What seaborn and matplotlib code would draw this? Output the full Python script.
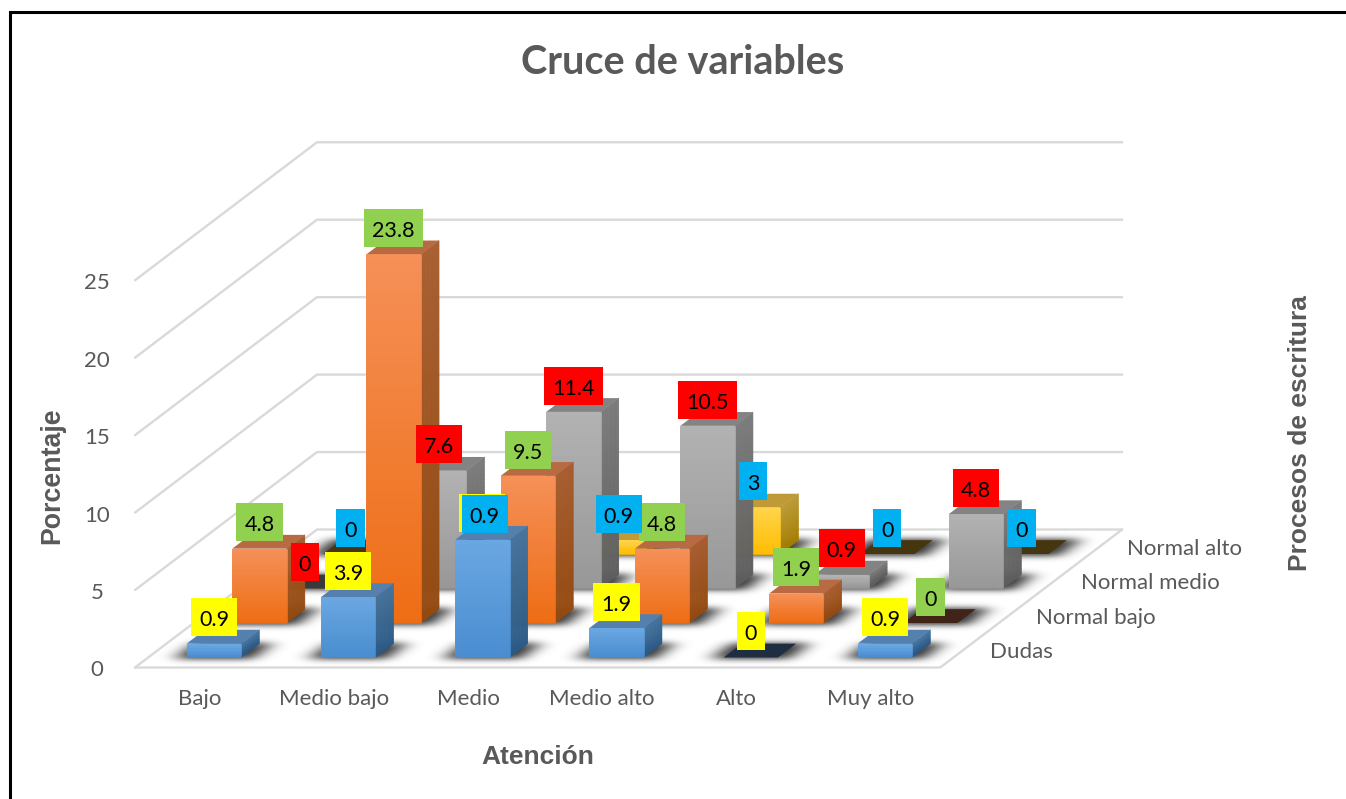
import numpy as np
import seaborn as sns
import matplotlib
matplotlib.use("Agg")
import matplotlib.pyplot as plt
from matplotlib.collections import PolyCollection
from matplotlib.colors import to_rgb
from matplotlib.patches import Polygon, Rectangle
from matplotlib.transforms import Affine2D

atencion = ["Bajo", "Medio bajo", "Medio", "Medio alto", "Alto", "Muy alto"]
escritura = ["Dudas", "Normal bajo", "Normal medio", "Normal alto"]
dudas = [0.9, 3.9, 7.6, 1.9, 0, 0.9]
normal_bajo = [4.8, 23.8, 9.5, 4.8, 1.9, 0]
normal_medio = [0, 7.6, 11.4, 10.5, 0.9, 4.8]
normal_alto = [0, 0.9, 0.9, 3, 0, 0]
series = [dudas, normal_bajo, normal_medio, normal_alto]
y_ticks = [0, 5, 10, 15, 20, 25]

# front top, front bottom, side top, side bottom, top face, flat (zero) face
bar_colors = [
    ("#6AA7E2", "#4A8DD0", "#44749F", "#2C5A86", "#557FAC", "#1F2D40"),
    ("#F59058", "#EE6D14", "#A85D2F", "#944A10", "#B86A42", "#3F2417"),
    ("#B2B2B2", "#989898", "#7A7A7A", "#5E5E5E", "#838383", "#393939"),
    ("#FFD34A", "#FFBE00", "#BB9A35", "#A57E00", "#BF9A36", "#46360F"),
]
label_colors = ["#FFFF00", "#92D050", "#FF0000", "#00B0F0"]

sns.set_theme(style="white")
plt.rcParams["font.family"] = ["Lato", "DejaVu Sans"]

W, H = 1346, 799
ORIGIN_X, ORIGIN_Y = 135, 667.5
CAT_W, VAL_H = 134.2, 15.49
DEPTH_X, DEPTH_Y = 45.5, -34.5
BAR_W, BAR_D, FRONT_GAP = 0.405, 0.4, 0.29
CAT_MID = 0.49
GRAY = "#595959"


def proj(cat, depth, val):
    return (ORIGIN_X + cat * CAT_W + depth * DEPTH_X,
            ORIGIN_Y - val * VAL_H + depth * DEPTH_Y)


def shade(quad, top, bottom, z):
    # vertical gradient as thin strips, quad is tl, tr, br, bl
    tl, tr, br, bl = [np.array(q) for q in quad]
    n = max(3, int(abs(bl[1] - tl[1]) / 2))
    steps = np.linspace(0, 1, n + 1)
    strips = []
    for s0, s1 in zip(steps[:-1], steps[1:]):
        strips.append([tl + (bl - tl) * s0, tr + (br - tr) * s0, tr + (br - tr) * s1, tl + (bl - tl) * s1])
    cols = np.linspace(to_rgb(top), to_rgb(bottom), n)
    ax.add_collection(PolyCollection(strips, facecolors=cols, edgecolors=cols, linewidths=0.4, zorder=z),
                      autolim=False)


fig = plt.figure(figsize=(W / 100, H / 100), dpi=100, facecolor="white")
ax = fig.add_axes([0, 0, 1, 1])
ax.set_xlim(0, W)
ax.set_ylim(H, 0)
ax.set_autoscale_on(False)

# walls and floor
n_cats, n_rows = len(atencion), len(series)
for v in y_ticks:
    xs, ys = zip(proj(0, 0, v), proj(0, n_rows, v), proj(n_cats, n_rows, v))
    ax.plot(xs, ys, color="#D9D9D9", lw=1.7, zorder=1)
    ax.text(97, proj(0, 0, v)[1] + 3, str(v), color=GRAY, fontsize=16, ha="center", va="center")
xs, ys = zip(proj(0, 0, 0), proj(n_cats, 0, 0), proj(n_cats, n_rows, 0))
ax.plot(xs, ys, color="#D9D9D9", lw=1.7, zorder=1)

# bars, back row first
footprints = []
z = 10
label_items = []
for row in range(n_rows - 1, -1, -1):
    vals = series[row]
    front = row + FRONT_GAP
    x0, y0 = proj(CAT_MID, front, 0)
    to_screen = Affine2D().scale(CAT_W, -VAL_H).translate(x0, y0) + ax.transData
    colors = bar_colors[row]
    sns.barplot(x=atencion, y=vals, order=atencion, color=colors[0], saturation=1, width=BAR_W,
                errorbar=None, ax=ax, transform=to_screen, zorder=z, linewidth=0)
    bars = ax.patches[-n_cats:]
    for i, p in enumerate(bars):
        cat0 = p.get_x() + CAT_MID
        cat1 = cat0 + p.get_width()
        v = p.get_height()
        back = front + BAR_D
        footprints.append((proj(cat0, front, 0), proj(cat1, front, 0),
                           proj(cat1, back, 0), proj(cat0, back, 0)))
        z += 1
        top = [proj(cat0, front, v), proj(cat1, front, v), proj(cat1, back, v), proj(cat0, back, v)]
        if v == 0:
            ax.add_patch(Polygon(top, closed=True, facecolor=colors[5], edgecolor="none", zorder=z))
        else:
            shade([proj(cat1, front, v), proj(cat1, back, v), proj(cat1, back, 0), proj(cat1, front, 0)],
                  colors[2], colors[3], z)
            ax.add_patch(Polygon(top, closed=True, facecolor=colors[4], edgecolor="none", zorder=z))
            shade([proj(cat0, front, v), proj(cat1, front, v), proj(cat1, front, 0), proj(cat0, front, 0)],
                  colors[0], colors[1], z + 1)
        z += 2
        label_items.append((row, i, (cat0 + cat1) / 2, front, back, v))

# soft shadows on the floor
yy, xx = np.mgrid[0:H, 0:W]
mask = np.zeros((H, W))
for a, b, c, d in footprints:
    t = (yy - a[1]) / (d[1] - a[1])
    left = a[0] + t * (d[0] - a[0])
    right = b[0] + t * (c[0] - b[0])
    mask[(t >= -0.1) & (t <= 1.1) & (xx >= left - 12) & (xx <= right + 12)] = 1


def blur(arr, sigma, axis):
    r = int(3 * sigma)
    kernel = np.exp(-0.5 * (np.arange(-r, r + 1) / sigma) ** 2)
    kernel /= kernel.sum()
    return np.apply_along_axis(lambda m: np.convolve(m, kernel, mode="same"), axis, arr)


soft = blur(blur(mask, 9, 1), 3, 0)
rgba = np.zeros((H, W, 4))
rgba[..., 3] = np.clip(soft * 0.8, 0, 1)
ax.imshow(rgba, extent=(0, W, H, 0), aspect="auto", origin="upper", zorder=5)

# data labels, later series on top
renderer = fig.canvas.get_renderer()
for row, i, cat, front, back, v in sorted(label_items, key=lambda r: (r[0], r[1])):
    lx = proj(cat, front, v)[0]
    ly = proj(cat, back, v)[1] - 12.5
    t = ax.text(lx, ly + 1, f"{v:g}", color="black", fontsize=15.5, ha="center", va="center_baseline",
                zorder=1001 + 2 * row)
    bw = t.get_window_extent(renderer).width + 16
    ax.add_patch(Rectangle((lx - bw / 2, ly - 19), bw, 38, facecolor=label_colors[row], edgecolor="none",
                           zorder=1000 + 2 * row))

# category and depth labels
for i, name in enumerate(atencion):
    ax.text(proj(i + 0.5, 0, 0)[0] - 2.5, 699, name, color=GRAY, fontsize=16, ha="center", va="center")
for j, name in enumerate(escritura):
    px, py = proj(n_cats, j + 0.5, 0)
    ax.text(px + 27.5, py + 2, name, color=GRAY, fontsize=16, ha="left", va="center")

ax.text(683, 62, "Cruce de variables", color=GRAY, fontsize=28.5, fontweight="bold", ha="center", va="center")
bold = ["Liberation Sans", "DejaVu Sans"]
ax.text(538, 757, "Atención", color=GRAY, fontsize=19, fontweight="bold", family=bold, ha="center", va="center")
ax.text(52, 476, "Porcentaje", color=GRAY, fontsize=19.3, fontweight="bold", family=bold, rotation=90,
        ha="center", va="center")
ax.text(1300, 433, "Procesos de escritura", color=GRAY, fontsize=19, fontweight="bold", family=bold, rotation=90,
        ha="center", va="center")

# outer frame, cropped at right and bottom in the source
ax.plot([9.5, 9.5, W], [H, 12, 12], color="black", lw=2.2, zorder=2000, solid_joinstyle="miter")

ax.set_xlim(0, W)
ax.set_ylim(H, 0)
ax.axis("off")
fig.savefig("out.png", dpi=100)
